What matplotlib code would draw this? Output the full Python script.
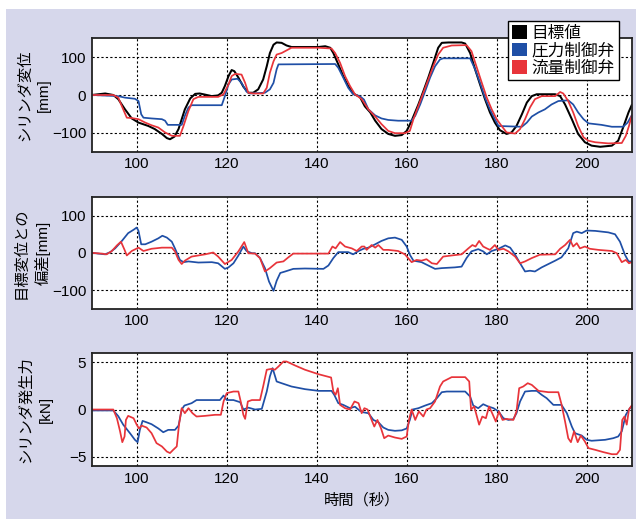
import numpy as np
import matplotlib
matplotlib.use("Agg")
import matplotlib.pyplot as plt
from matplotlib.patches import Patch, Rectangle

plt.rcParams["font.family"] = ["Liberation Sans", "Noto Sans CJK JP"]

BLACK = "#000000"
BLUE = "#1f4fa6"
RED = "#e8343a"

# --- cylinder displacement [mm] ---
tgt_t = [90, 93, 94.8, 95.9, 97.4, 98.9, 100.4, 102.6, 104, 105.6, 106.7, 107.4, 108.4, 109.3,
         110, 110.7, 111.9, 113, 114, 115.2, 116.7, 118.1, 118.9, 119.6, 120.4, 121.1, 121.7,
         122.6, 123.7, 124.8, 125.9, 127, 128.1, 128.9, 129.6, 130.4, 131.1, 132.2, 133.3,
         134.4, 136.7, 140.4, 141.9, 143, 143.7, 144.8, 145.9, 147, 148.1, 149.6, 150.7,
         151.9, 153, 154.4, 155.9, 157.4, 158.9, 160, 161.1, 162.6, 163.7, 164.8, 165.9, 167,
         167.8, 169.3, 172.2, 173, 174.1, 175.2, 176.3, 177.4, 178.5, 179.6, 180.7, 182.2,
         183.3, 184.4, 185.6, 186.7, 187.8, 188.9, 193, 194.1, 195.2, 196.7, 198.1, 199.6,
         201.1, 203, 205.6, 207, 208.1, 209.3, 210]
tgt_y = [0, 4, 0, -11, -38, -62, -73, -82, -90, -103, -114, -117, -110, -90,
         -64, -38, -9, 3, 4, 1, -3, -1, 6, 24, 50, 66, 63,
         46, 22, 6, 6, 15, 41, 76, 111, 133, 139, 138, 131,
         127, 127, 127, 129, 125, 111, 81, 50, 24, 4, -5, -30,
         -46, -68, -90, -103, -108, -106, -95, -68, -25, 10, 46, 85, 125,
         138, 139, 139, 136, 111, 68, 28, -11, -46, -73, -93, -103,
         -99, -82, -51, -20, -3, 2, 2, -3, -25, -64, -103, -125,
         -134, -137, -134, -121, -86, -46, -27]

prs_t = [90, 95.9, 97.4, 99.6, 100.4, 101, 101.5, 103.3, 105.6, 106.3, 106.9, 110, 110.7,
         111.5, 112.2, 118.9, 119.6, 120.4, 121.1, 122.4, 123.3, 124.4, 125.2, 128.5, 129.6,
         130.4, 131.1, 131.5, 144.1, 144.8, 145.9, 147, 148.1, 149.6, 150.5, 151.5, 153,
         154.4, 155.9, 158.1, 161.1, 161.9, 163, 164.1, 165.2, 166.3, 167.4, 168.1, 174.1,
         175.2, 176.3, 177.4, 178.5, 179.6, 180.4, 185.6, 186.7, 187.8, 189.3, 190.7, 192.2,
         193.7, 195.9, 197, 198.1, 199.3, 200.4, 203.3, 205.6, 208.1, 209.1, 210]
prs_y = [0, -3, -7, -10, -16, -51, -60, -62, -64, -68, -79, -79, -55,
         -33, -27, -27, -3, 28, 41, 43, 32, 9, 4, 6, 15,
         32, 68, 81, 82, 72, 46, 19, 2, -3, -12, -38, -54,
         -62, -66, -68, -68, -55, -25, 10, 46, 76, 94, 97, 97,
         68, 32, -7, -38, -64, -82, -84, -73, -57, -46, -38, -25,
         -16, -14, -25, -46, -64, -75, -79, -84, -84, -73, -54]

flw_t = [90, 94.8, 95.9, 97, 97.8, 98.9, 100.4, 101.9, 103.3, 104.8, 106.3, 107.8, 109.6,
         110.4, 111.5, 112.6, 113.7, 118.1, 119.3, 120.4, 121.1, 121.9, 123.3, 124.1, 124.8,
         125.9, 128.1, 128.9, 129.6, 130.4, 131.1, 132.2, 133.3, 134.4, 140.4, 143.3, 144.1,
         145.2, 146.3, 147.4, 148.5, 150, 151.5, 153, 154.4, 155.9, 157.4, 159.6, 160.7,
         161.5, 162.6, 163.7, 164.8, 165.9, 167, 168.1, 170, 173.3, 174.4, 175.6, 176.7,
         177.8, 178.9, 180, 181.1, 182.2, 184.1, 185.2, 186.3, 187.4, 188.5, 190, 193, 194.1,
         194.8, 195.9, 197, 198.1, 199.3, 200.4, 201.9, 204.8, 207.8, 208.7, 209.4, 210]
flw_y = [0, 0, -7, -38, -60, -61, -64, -73, -80, -86, -99, -108, -108,
         -82, -42, -11, -5, -5, 2, 28, 50, 56, 54, 32, 6,
         4, 4, 19, 59, 89, 107, 111, 118, 125, 125, 123, 111,
         85, 50, 24, 2, -11, -38, -57, -77, -95, -101, -101, -95,
         -64, -29, 6, 41, 76, 107, 125, 131, 132, 116, 72, 32,
         -7, -38, -64, -82, -99, -102, -90, -64, -33, -11, -3, -3, 8,
         4, -16, -46, -82, -112, -121, -125, -128, -127, -108, -82, -55]

# --- deviation from target [mm] ---
dp_t = [90, 91.5, 93, 94.1, 95.2, 96.7, 98.1, 99.3, 100, 100.4, 101, 101.9, 103.3, 104.8,
        105.7, 106.7, 107.8, 108.5, 109.6, 110.4, 111.5, 113.7, 116.7, 118.1, 119.6, 120.4,
        121.5, 122.6, 123.7, 124.4, 125.6, 126.3, 127.4, 128.5, 129.4, 130.4, 131.1, 131.9,
        133, 134.8, 137.4, 141.5, 142.6, 143.7, 144.8, 147, 148.1, 149.3, 150.4, 151.5, 153,
        154.4, 155.9, 157.4, 158.9, 160, 160.7, 161.5, 163.3, 164.8, 166.3, 167.8, 170.7,
        172.2, 173.3, 174.4, 175.9, 177, 177.8, 178.9, 180.4, 181.9, 183, 184.1, 185.2,
        186.3, 187.4, 188.5, 190, 191.5, 193, 194.4, 195.9, 197, 197.8, 198.9, 200, 201.9,
        204.8, 206.3, 207.4, 208.5, 209.3, 210]
dp_y = [0, -2, -4, 2, 12, 32, 53, 62, 68, 59, 23, 23, 30, 39,
        46, 41, 30, 12, -19, -25, -23, -26, -25, -28, -43, -39,
        -28, -7, 17, 5, -1, -1, -14, -41, -77, -102, -75, -54,
        -50, -43, -42, -43, -34, -14, 2, 2, -4, 5, 11, 14, 23,
        32, 39, 41, 35, 17, -5, -21, -25, -34, -43, -41, -39,
        -37, -14, 4, 10, 4, -4, 5, 11, 20, 14, -5, -28,
        -50, -48, -50, -39, -30, -21, -12, 12, 53, 57, 53, 60, 59,
        55, 50, 30, -5, -23, -23]

df_t = [90, 92.2, 93.3, 94.4, 95.6, 96.5, 97.3, 97.8, 98.9, 100.4, 101.5, 103.3, 105.6,
        107.8, 108.5, 109.3, 110, 110.7, 112.2, 113.7, 115.2, 117, 118.1, 119.6, 121.1,
        122.6, 123.9, 124.8, 126.3, 127.4, 128.5, 129.6, 131.1, 132.6, 133.7, 134.8, 142.6,
        143.5, 144.2, 145.2, 146.3, 147.8, 148.9, 150, 150.6, 151.1, 152.2, 153, 153.7,
        154.8, 155.9, 158.1, 159.6, 161.1, 162.2, 163.3, 164.4, 165.6, 166.7, 168.1, 170,
        172.2, 173.7, 174.6, 175.3, 176.1, 177, 177.8, 178.5, 179.6, 180.4, 181.5, 182.6,
        184.1, 185.2, 186.3, 187.8, 189.6, 193, 194.1, 195.2, 196.3, 197, 197.8, 198.5,
        199.6, 200.7, 202.6, 205.6, 206.7, 207.8, 208.7, 209.4, 210]
df_y = [0, -2, -4, 4, 20, 30, 8, -7, 5, 14, 5, 11, 14,
        14, 4, -19, -30, -21, -10, -7, -4, 1, -10, -30, -19,
        4, 29, -1, -2, -14, -50, -41, -26, -23, -12, -2, -2,
        17, 12, 29, 17, 12, 5, 17, 17, 8, 21, 14, 21,
        8, 8, 5, -4, -25, -19, -21, -17, -28, -30, -10, -7,
        -4, 12, 21, 17, 32, 17, 12, 8, 21, 8, 11, 4,
        -10, -28, -23, -14, -5, -4, 11, 21, 35, 17, 26, 12,
        17, 11, 8, 5, -1, -25, -19, -28, -25]

# --- cylinder force [kN] ---
fp_t = [90, 94.8, 95.9, 97, 98.5, 99.6, 100.2, 100.7, 101.3, 102.2, 103.3, 104.8, 105.9,
        107, 108.5, 109.3, 110, 110.6, 112.2, 113.3, 116.7, 118.5, 119.3, 120, 121.5, 123,
        123.7, 124.8, 126.3, 127.8, 128.9, 129.6, 130.2, 131.1, 132.2, 134.4, 137.4, 140.4,
        143.3, 143.9, 144.8, 145.9, 147.4, 148.5, 149.6, 150.4, 151.5, 152.6, 153.7, 154.8,
        155.9, 157.4, 158.9, 160, 160.7, 161.3, 162.6, 164.1, 165.6, 166.7, 167.8, 168.9,
        173, 174.1, 174.8, 175.9, 177, 178.1, 179.3, 180.4, 181.5, 182.6, 183.7, 184.4,
        185.2, 186.3, 187.8, 188.9, 190, 191.1, 192.6, 194.4, 195.6, 196.7, 197.4, 198.9,
        200, 201.1, 204.1, 205.9, 207, 207.8, 208.7, 209.6, 210]
fp_y = [-0.1, -0.1, -0.7, -1.6, -2.5, -3.2, -3.45, -2.15, -1.2, -1.35, -1.55, -2.0, -2.4,
        -2.15, -2.15, -1.7, 0.0, 0.42, 0.67, 1.0, 1.0, 1.0, 1.48, 1.0, 1.0, 0.77,
        0.0, 0.2, 0.0, 0.07, 1.9, 3.5, 4.37, 2.96, 2.78, 2.43, 2.15, 1.97,
        1.97, 1.55, 0.67, 0.49, 0.14, 0.3, -0.14, -0.3, -0.39, -1.1, -1.34, -1.9,
        -2.15, -2.25, -2.2, -2.0, -1.1, 0.0, 0.14, 0.42, 0.67, 1.2, 1.83, 1.9,
        1.9, 1.37, 0.42, 0.14, 0.56, 0.32, 0.14, -0.2, -0.92, -1.1, -1.02, -0.39,
        0.85, 1.9, 1.97, 1.97, 1.55, 1.2, 0.49, 0.49, -0.39, -1.8, -2.5, -2.75,
        -3.2, -3.3, -3.2, -3.03, -2.85, -2.3, -0.56, 0.14, 0.32]

ff_t = [90, 94.8, 95.6, 96.3, 96.8, 97.3, 97.6, 98.1, 99.3, 100, 100.5, 101.1, 102.2,
        103.3, 104.4, 105.6, 106.7, 107.4, 108.1, 108.9, 109.4, 110, 110.7, 111.5, 112.4,
        113.3, 115.2, 117.4, 118.7, 119.3, 120, 121.5, 122.6, 123.2, 123.7, 124.1, 124.7,
        125.6, 127.4, 128.1, 128.9, 130, 130.7, 131.5, 132.6, 133.3, 135.2, 137.4, 140.4,
        143.2, 143.7, 144.2, 144.7, 145.2, 146.3, 147.4, 148.4, 149.3, 150, 150.6, 151.3,
        152.2, 152.8, 153.5, 154.3, 155, 155.9, 157.4, 158.9, 160, 160.5, 161.1, 161.9,
        162.7, 163.7, 164.4, 165.2, 166.3, 167.4, 168.1, 170, 173, 173.9, 174.3, 175, 176.1,
        176.8, 177.6, 178.3, 179, 179.8, 180.5, 181.3, 182.2, 183.7, 184.4, 185, 185.9,
        186.9, 187.8, 189.3, 191.5, 193.7, 194.4, 195.2, 195.9, 196.5, 197.2, 198, 198.7,
        199.6, 200.4, 201.9, 203.7, 205.6, 206.7, 207.4, 207.9, 208.4, 208.9, 209.4, 210]
ff_y = [0.0, 0.0, -0.92, -2.3, -3.45, -2.85, -1.1, -0.67, -0.92, -1.6, -2.0, -1.7, -1.9,
        -2.5, -3.55, -3.9, -4.44, -4.6, -4.26, -3.9, -1.6, 0.14, -0.39, 0.14, -0.39,
        -0.74, -0.67, -0.56, -0.56, 0.85, 1.73, 1.9, 1.9, 0.67, -0.56, -0.99, 0.85,
        1.0, 1.0, 2.43, 4.2, 4.3, 4.2, 4.54, 5.07, 5.07, 4.65, 4.2, 3.73,
        3.38, 1.9, 1.55, 2.25, 0.49, 0.14, 0.0, 0.85, 0.67, -0.39, 0.14, 0.0,
        -1.1, -1.8, -1.1, -2.0, -3.03, -2.75, -2.96, -3.1, -2.85, -1.1, 0.0, -1.1,
        -0.2, -0.74, 0.0, 0.14, 0.85, 2.43, 2.96, 3.42, 3.42, 2.96, 0.0, 0.32, -1.6,
        -0.74, -0.92, 0.32, -0.39, -1.27, -0.2, -1.1, -0.99, -1.1, -0.2, 2.25, 2.43,
        2.78, 2.6, 1.97, 1.83, 1.83, 0.56, -1.27, -3.03, -3.45, -2.3, -3.45, -2.75,
        -3.38, -4.08, -4.26, -4.5, -4.72, -4.72, -4.26, -1.1, -0.74, -1.6, 0.0, 0.42]

xticks = [100, 120, 140, 160, 180, 200]
legend_labels = ["目標値", "圧力制御弁", "流量制御弁"]

fig = plt.figure(figsize=(6.36, 5.19), dpi=100)
fig.patch.set_facecolor("white")
fig.patches.append(Rectangle((6 / 636, 0), 1, 1 - 9 / 519, transform=fig.transFigure,
                             facecolor="#d6d7eb", edgecolor="none", zorder=-10))

W = 0.849
L = 0.1442
ax1 = fig.add_axes([L, 0.7077, W, 0.2185])
ax2 = fig.add_axes([L, 0.4052, W, 0.2152])
ax3 = fig.add_axes([L, 0.1015, W, 0.2189])

lw = 1.25
ax1.plot(tgt_t, tgt_y, color=BLACK, lw=1.45)
ax1.plot(prs_t, prs_y, color=BLUE, lw=lw)
ax1.plot(flw_t, flw_y, color=RED, lw=lw)
ax2.plot(dp_t, dp_y, color=BLUE, lw=lw)
ax2.plot(df_t, df_y, color=RED, lw=lw)
ax3.plot(fp_t, fp_y, color=BLUE, lw=lw)
ax3.plot(ff_t, ff_y, color=RED, lw=lw)

for ax in (ax1, ax2, ax3):
    ax.set_facecolor("white")
    ax.set_xlim(90, 210)
    ax.set_xticks(xticks)
    ax.grid(color="black", linestyle=(0, (2, 2)), linewidth=0.8)
    ax.tick_params(labelsize=11, direction="in", length=0, pad=4)
    for s in ax.spines.values():
        s.set_linewidth(1.3)
        s.set_color("#222222")

ax1.set_ylim(-150, 150)
ax1.set_yticks([-100, 0, 100])
ax2.set_ylim(-150, 150)
ax2.set_yticks([-100, 0, 100])
ax3.set_ylim(-6, 6)
ax3.set_yticks([-5, 0, 5])

lab = dict(fontsize=11, linespacing=1.5, va="center")
ax1.set_ylabel("シリンダ変位\n[mm]", **lab)
ax2.set_ylabel("目標変位との\n偏差[mm]", **lab)
ax3.set_ylabel("シリンダ発生力\n[kN]", **lab)
ax1.yaxis.set_label_coords(-0.106, 0.5)
ax2.yaxis.set_label_coords(-0.110, 0.5)
ax3.yaxis.set_label_coords(-0.104, 0.5)
ax3.set_xlabel("時間（秒）", fontsize=11, labelpad=5)

handles = [Patch(facecolor=c, edgecolor="none") for c in (BLACK, BLUE, RED)]
leg = fig.legend(handles, legend_labels, loc="upper right",
                 bbox_to_anchor=(619 / 636, 1 - 21 / 519), bbox_transform=fig.transFigure,
                 fontsize=12, frameon=True, fancybox=False, borderaxespad=0,
                 handlelength=0.9, handleheight=0.9, handletextpad=0.3,
                 labelspacing=0.1, borderpad=0.25)
leg.get_frame().set_edgecolor("black")
leg.get_frame().set_linewidth(1.0)
leg.get_frame().set_alpha(1)

fig.savefig("out.png", dpi=100)
